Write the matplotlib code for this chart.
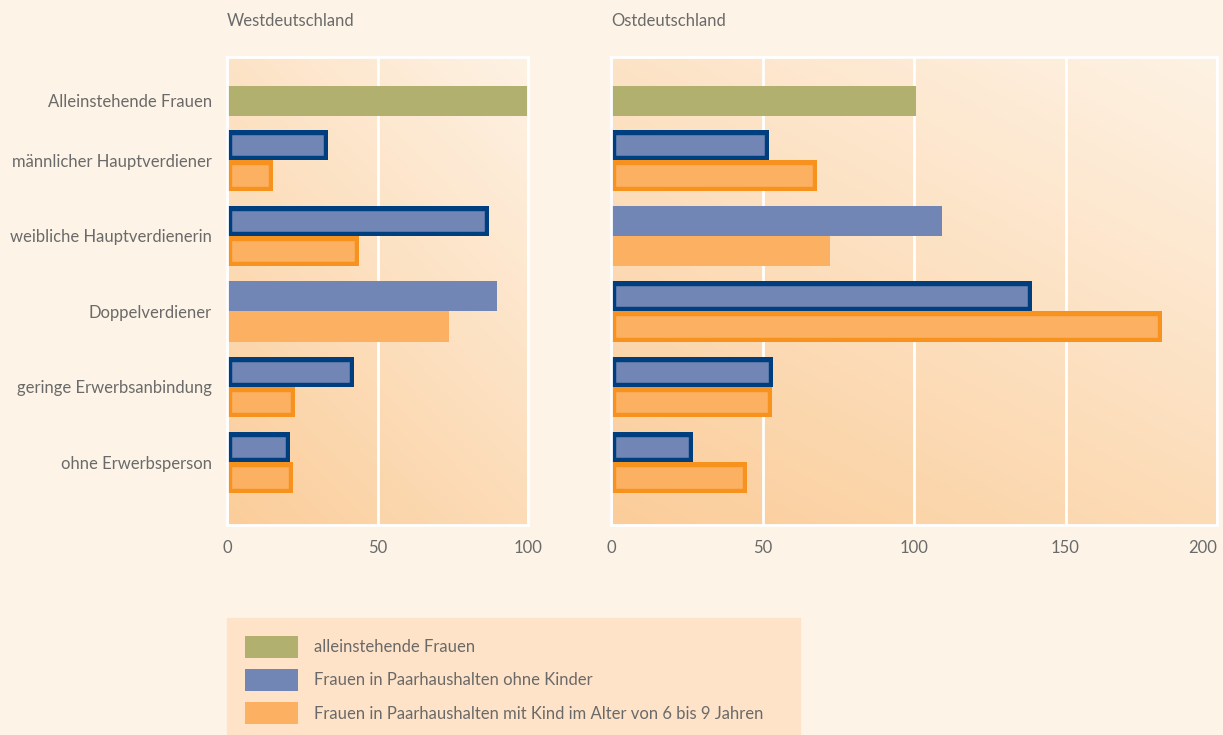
import numpy as np
import matplotlib.pyplot as plt
from matplotlib.patches import Patch, Rectangle
from matplotlib.colors import LinearSegmentedColormap

plt.rcParams['font.family'] = ['Lato', 'DejaVu Sans']
plt.rcParams['font.size'] = 12
plt.rcParams['text.color'] = '#6a6a6a'

categories = ['Alleinstehende Frauen', 'männlicher Hauptverdiener', 'weibliche Hauptverdienerin',
              'Doppelverdiener', 'geringe Erwerbsanbindung', 'ohne Erwerbsperson']
legend_labels = ['alleinstehende Frauen', 'Frauen in Paarhaushalten ohne Kinder',
                 'Frauen in Paarhaushalten mit Kind im Alter von 6 bis 9 Jahren']

# Westdeutschland
west_single = 101
west_no_kids = [33.5, 87, 89.7, 42.2, 21]
west_kid = [15.2, 43.9, 73.7, 22.6, 21.8]
west_outlined = [True, True, False, True, True]
west_ticks = [0, 50, 100]

# Ostdeutschland
east_single = 100.5
east_no_kids = [52.2, 109.4, 138.8, 53.5, 26.9]
east_kid = [68, 72.4, 182, 53.3, 44.9]
east_outlined = [True, False, True, True, True]
east_ticks = [0, 50, 100, 150, 200]

green = '#b1b06e'
blue = '#7286b5'
orange = '#fbb161'
navy = '#003f7f'
dark_orange = '#f7921e'
bg = '#fdf4e7'
txt = '#6a6a6a'
fs = 12

W, H = 1223, 735
row_pos = np.array([0.58, 1.37, 2.37, 3.37, 4.37, 5.37])
bh = 0.4

cmap = LinearSegmentedColormap.from_list('bg', ['#fbcd9a', '#fef2e4'])
gx, gy = np.meshgrid(np.linspace(0, 1, 200), np.linspace(0, 1, 200))
grad = (gx * 0.8 + gy * 1.2) / 2


def outline(rect, color):
    # stroke kept inside the bar
    rect.set_edgecolor(color)
    rect.set_linewidth(6.8)
    rect.set_clip_path(rect)


def panel(ax, title, single, no_kids, kid, outlined, ticks):
    ax.imshow(grad, cmap=cmap, extent=(0, 1, 0, 1), transform=ax.transAxes,
              origin='lower', aspect='auto', zorder=0)
    ax.barh(row_pos[0], single, height=bh, color=green, zorder=2)
    b1 = ax.barh(row_pos[1:] - bh / 2, no_kids, height=bh, color=blue, zorder=2)
    b2 = ax.barh(row_pos[1:] + bh / 2, kid, height=bh, color=orange, zorder=2)
    for r1, r2, o in zip(b1, b2, outlined):
        if o:
            outline(r1, navy)
            outline(r2, dark_orange)
    ax.set_xlim(ticks[0], ticks[-1])
    ax.set_ylim(6.2, 0)
    ax.set_xticks(ticks)
    ax.set_axisbelow(True)
    ax.grid(axis='x', color='white', lw=2)
    for s in ax.spines.values():
        s.set_color('white')
        s.set_linewidth(2)
    ax.tick_params(length=0, colors=txt, pad=11, labelsize=fs)
    ax.set_title(title, loc='left', pad=22, fontsize=fs, color=txt)


fig = plt.figure(figsize=(W / 100, H / 100), dpi=100, facecolor=bg)
ax1 = fig.add_axes([227 / W, 1 - 525 / H, 301 / W, 468 / H])
ax2 = fig.add_axes([611 / W, 1 - 525 / H, 606 / W, 468 / H])

panel(ax1, 'Westdeutschland', west_single, west_no_kids, west_kid, west_outlined, west_ticks)
panel(ax2, 'Ostdeutschland', east_single, east_no_kids, east_kid, east_outlined, east_ticks)

ax1.set_yticks(row_pos)
ax1.set_yticklabels(categories)
ax2.set_yticks([])
ax2.get_xticklabels()[-1].set_ha('right')

# legend box
fig.patches.append(Rectangle((227 / W, 0), (800 - 227) / W, (735 - 618) / H,
                             transform=fig.transFigure, color='#fee3c8', zorder=0))
handles = [Patch(facecolor=c) for c in [green, blue, orange]]
em = fs * 100 / 72
fig.legend(handles, legend_labels, loc='upper left', bbox_to_anchor=(227 / W, 1 - 618 / H),
           frameon=False, borderaxespad=0, borderpad=18 / em, handlelength=53 / em,
           handleheight=27 / em, labelspacing=11.5 / em, handletextpad=16 / em, fontsize=fs,
           labelcolor=txt)

fig.savefig('out.png', dpi=100, facecolor=bg)
